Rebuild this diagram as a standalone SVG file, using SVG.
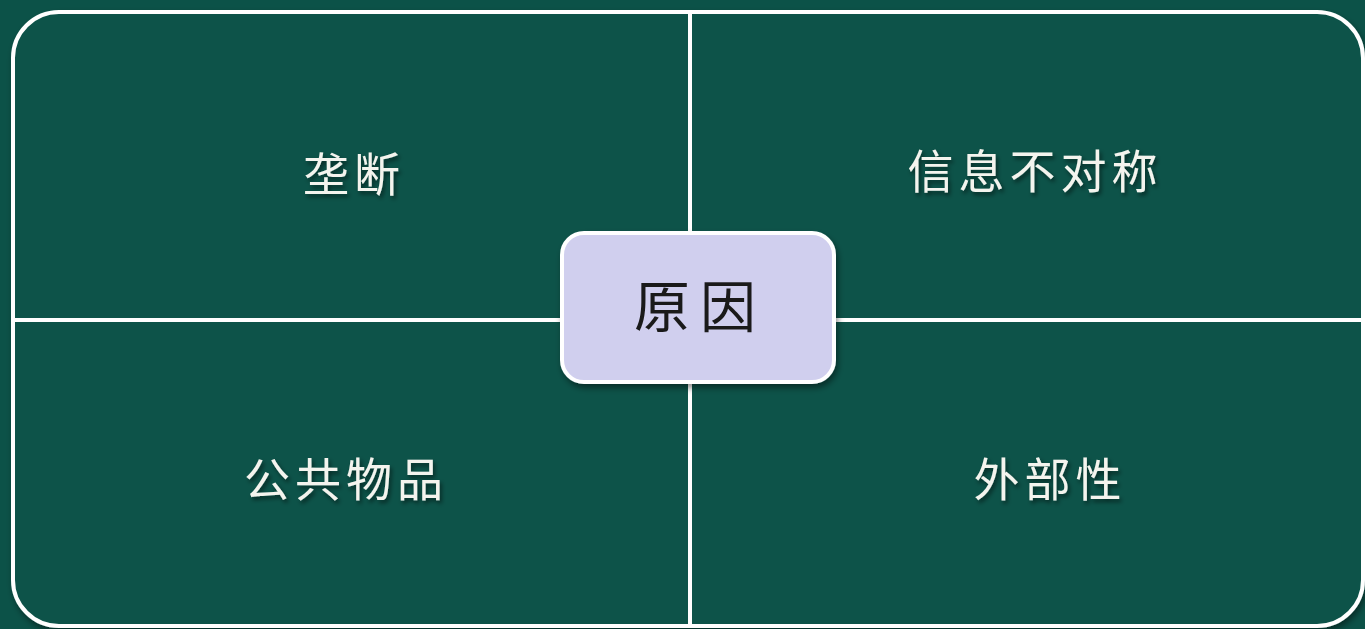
<svg xmlns="http://www.w3.org/2000/svg" width="1365" height="629" viewBox="0 0 1365 629">
<defs>
<filter id="sh" x="-10%" y="-10%" width="130%" height="140%">
<feDropShadow dx="2" dy="4" stdDeviation="3" flood-color="#000" flood-opacity="0.45"/>
</filter>
<filter id="tsh" x="-10%" y="-20%" width="130%" height="150%">
<feDropShadow dx="2" dy="3" stdDeviation="2" flood-color="#000" flood-opacity="0.5"/>
</filter>
<style>
.q{fill:#0c5248;stroke:#ffffff;stroke-width:4}
.lbl{font-family:"Liberation Serif","Noto Sans CJK SC",serif;font-size:46px;fill:#f4f4ee;text-anchor:middle;dominant-baseline:central;letter-spacing:5px;filter:url(#tsh)}
.c{font-family:"Liberation Serif","Noto Sans CJK SC",serif;font-size:56px;fill:#1a1a1a;text-anchor:middle;dominant-baseline:central;letter-spacing:10px}
</style>
</defs>
<rect width="1365" height="629" fill="#0c5248"/>
<g id="outer" filter="url(#sh)">
<rect x="13" y="12" width="1350" height="614" rx="46" class="q" fill="#0c5248"/>
</g>
<g id="connectors" stroke="#ffffff" stroke-width="4">
<line x1="690" y1="12" x2="690" y2="626"/>
<line x1="13" y1="320" x2="1363" y2="320"/>
</g>
<g id="n-tl"><text class="lbl" x="354" y="175">垄断</text></g>
<g id="n-tr"><text class="lbl" x="1035" y="172">信息不对称</text></g>
<g id="n-bl"><text class="lbl" x="346" y="480">公共物品</text></g>
<g id="n-br"><text class="lbl" x="1050" y="480">外部性</text></g>
<g id="n-center">
<rect x="562" y="233" width="272" height="149" rx="22" fill="#d0cfee" stroke="#ffffff" stroke-width="4" filter="url(#sh)"/>
<text class="c" x="700" y="308">原因</text>
</g>
</svg>
